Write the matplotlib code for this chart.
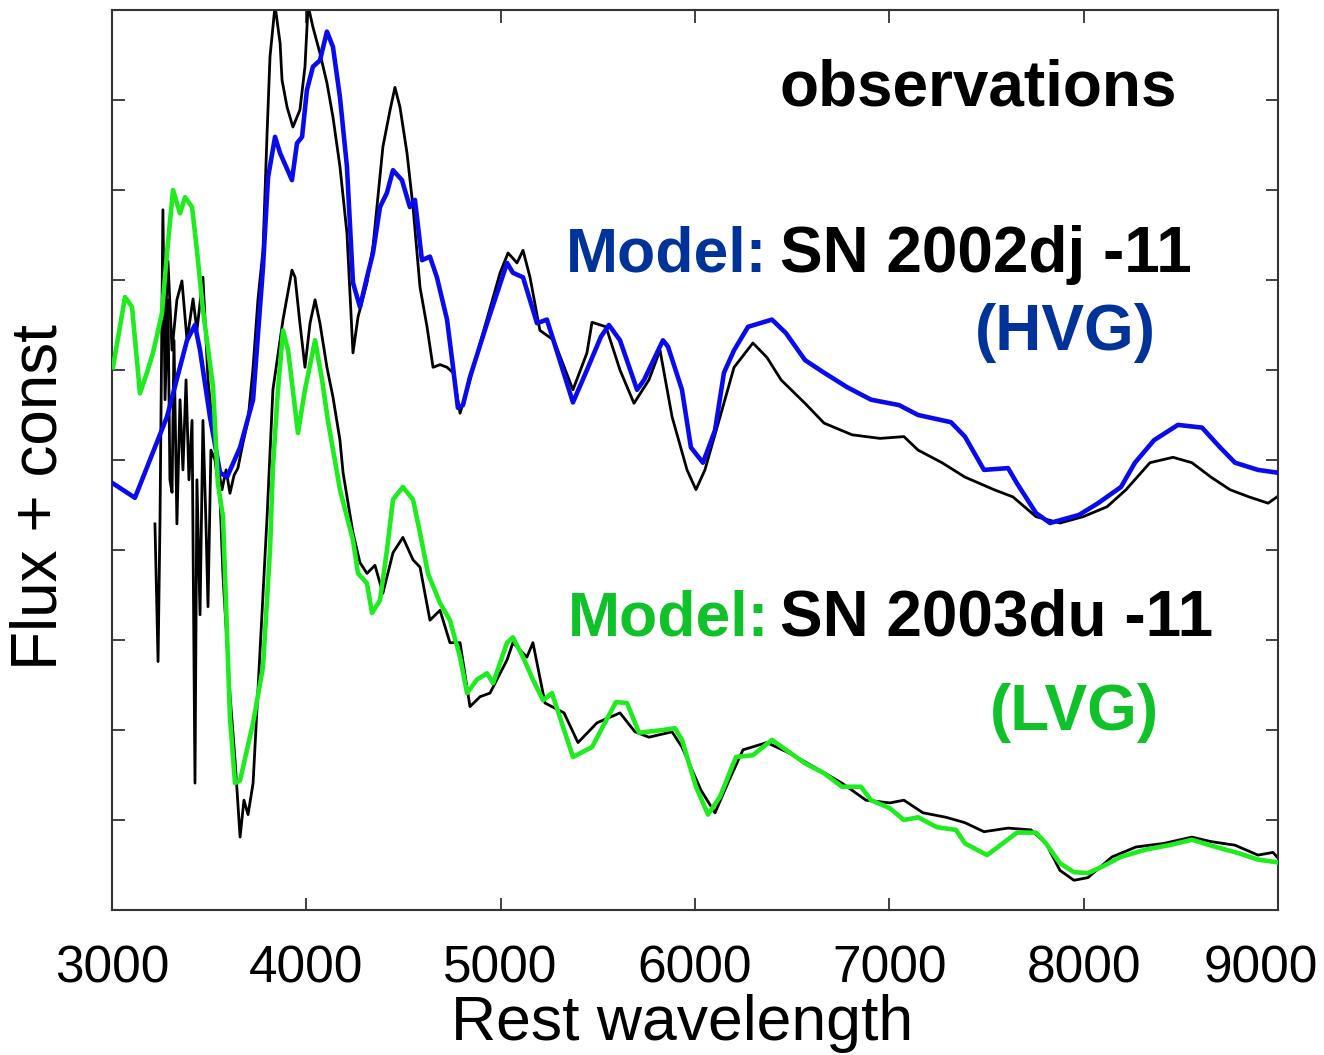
import matplotlib
matplotlib.use("Agg")
import matplotlib.pyplot as plt
from matplotlib.transforms import ScaledTranslation

plt.rcParams['font.family'] = ['Liberation Sans', 'DejaVu Sans']

# ---- data (wavelength in Angstrom, flux + const in arbitrary units) ----
hvg_model_wl = [3005, 3118, 3283, 3386, 3427, 3453, 3504, 3556, 3592, 3659, 3726, 3777, 3803, 3839, 3865,
                3926, 3952, 3978, 4003, 4034, 4070, 4106, 4137, 4173, 4209, 4240, 4276, 4312, 4343, 4379,
                4415, 4446, 4492, 4533, 4559, 4595, 4636, 4672, 4724, 4755, 4780, 4806, 4842, 4930, 5033,
                5063, 5115, 5187, 5238, 5372, 5444, 5516, 5557, 5614, 5702, 5738, 5835, 5861, 5933, 5979,
                6041, 6103, 6149, 6201, 6273, 6396, 6468, 6566, 6664, 6782, 6906, 7050, 7148, 7317, 7389,
                7487, 7611, 7657, 7755, 7827, 7976, 8074, 8192, 8264, 8362, 8485, 8609, 8702, 8779, 8897, 8995]
hvg_model_flux = [4.74, 4.58, 5.48, 6.33, 6.50, 6.22, 5.48, 4.86, 4.81, 5.14, 5.67, 7.14, 8.14, 8.59, 8.41,
                  8.11, 8.52, 8.59, 9.11, 9.37, 9.44, 9.76, 9.59, 9.03, 8.26, 6.97, 6.70, 7.03, 7.30, 7.81,
                  7.97, 8.22, 8.11, 7.81, 7.89, 7.22, 7.26, 7.03, 6.56, 6.03, 5.58, 5.61, 5.92, 6.52, 7.19,
                  7.08, 7.03, 6.52, 6.56, 5.64, 6.00, 6.37, 6.50, 6.33, 5.78, 5.89, 6.33, 6.26, 5.78, 5.14,
                  4.97, 5.33, 5.97, 6.22, 6.48, 6.56, 6.41, 6.11, 5.97, 5.81, 5.67, 5.61, 5.50, 5.42, 5.26,
                  4.89, 4.91, 4.74, 4.41, 4.30, 4.39, 4.52, 4.70, 4.97, 5.22, 5.39, 5.36, 5.14, 4.97, 4.89, 4.86]

obs_2002dj_wl = [3273, 3288, 3309, 3334, 3360, 3386, 3417, 3437, 3468, 3494, 3520, 3540, 3566, 3587, 3607,
                 3628, 3648, 3674, 3700, 3726, 3751, 3777, 3798, 3813, 3839, 3865, 3875, 3901, 3931, 3967,
                 3993, 4009, 4034, 4070, 4106, 4137, 4173, 4209, 4240, 4266, 4312, 4343, 4394, 4431, 4456,
                 4482, 4518, 4549, 4585, 4621, 4652, 4688, 4724, 4755, 4791, 4842, 4909, 4997, 5038, 5084,
                 5115, 5151, 5202, 5274, 5372, 5444, 5470, 5542, 5614, 5686, 5763, 5820, 5882, 5959, 6005,
                 6051, 6129, 6201, 6298, 6370, 6443, 6566, 6664, 6808, 6952, 7075, 7148, 7271, 7389, 7539,
                 7636, 7755, 7878, 7997, 8120, 8218, 8341, 8460, 8557, 8655, 8753, 8851, 8949, 8995]
obs_2002dj_flux = [6.44, 7.21, 6.22, 6.78, 6.99, 6.33, 6.79, 6.44, 7.03, 5.89, 5.33, 5.00, 4.67, 4.89, 4.63,
                   4.83, 4.91, 5.19, 5.44, 6.03, 6.78, 7.33, 8.63, 9.48, 10.05, 9.63, 9.22, 8.92, 8.70, 8.89,
                   9.37, 10.05, 9.81, 9.52, 9.19, 8.81, 8.26, 7.52, 6.19, 6.59, 6.97, 7.37, 8.48, 8.89, 9.14,
                   8.92, 8.41, 7.81, 6.92, 6.48, 6.03, 6.06, 6.03, 5.97, 5.52, 5.89, 6.41, 7.08, 7.30, 7.19,
                   7.33, 7.03, 6.44, 6.33, 5.78, 6.19, 6.53, 6.48, 6.00, 5.63, 5.89, 6.22, 5.48, 4.89, 4.67,
                   4.89, 5.48, 6.03, 6.30, 6.14, 5.89, 5.63, 5.41, 5.28, 5.24, 5.26, 5.11, 4.97, 4.81, 4.67,
                   4.59, 4.37, 4.30, 4.37, 4.48, 4.67, 4.97, 5.03, 4.97, 4.81, 4.67, 4.59, 4.52, 4.59]

lvg_model_wl = [3005, 3067, 3103, 3144, 3180, 3211, 3257, 3283, 3314, 3350, 3376, 3412, 3437, 3468, 3520,
                3545, 3571, 3607, 3633, 3659, 3726, 3777, 3813, 3828, 3854, 3880, 3906, 3957, 3993, 4045,
                4081, 4111, 4158, 4173, 4240, 4266, 4312, 4338, 4379, 4415, 4446, 4497, 4549, 4585, 4626,
                4688, 4739, 4791, 4827, 4878, 4930, 4961, 5033, 5063, 5115, 5166, 5218, 5264, 5372, 5470,
                5593, 5650, 5712, 5835, 5897, 5933, 6005, 6067, 6129, 6211, 6298, 6396, 6468, 6566, 6664,
                6756, 6854, 6906, 7003, 7075, 7148, 7245, 7343, 7389, 7503, 7559, 7657, 7755, 7806, 7878,
                7950, 8022, 8094, 8192, 8316, 8439, 8557, 8681, 8799, 8897, 8995]
lvg_model_flux = [6.03, 6.81, 6.70, 5.74, 5.97, 6.19, 6.63, 7.30, 8.00, 7.74, 7.92, 7.81, 7.33, 6.67, 5.81,
                  4.74, 4.37, 2.14, 1.41, 1.44, 2.08, 2.70, 4.00, 4.92, 5.78, 6.44, 6.22, 5.30, 5.78, 6.33,
                  5.89, 5.44, 4.86, 4.67, 4.11, 3.74, 3.63, 3.30, 3.44, 4.00, 4.56, 4.70, 4.56, 4.19, 3.74,
                  3.41, 3.22, 2.81, 2.41, 2.56, 2.63, 2.52, 2.97, 3.03, 2.81, 2.56, 2.33, 2.41, 1.70, 1.81,
                  2.31, 2.30, 1.97, 2.00, 2.02, 1.89, 1.37, 1.06, 1.26, 1.70, 1.72, 1.89, 1.78, 1.63, 1.52,
                  1.37, 1.37, 1.22, 1.13, 1.00, 1.03, 0.92, 0.89, 0.74, 0.61, 0.70, 0.86, 0.86, 0.74, 0.52,
                  0.42, 0.41, 0.48, 0.59, 0.67, 0.72, 0.78, 0.70, 0.63, 0.56, 0.53]

obs_2003du_wl = [3221, 3237, 3247, 3262, 3273, 3288, 3298, 3309, 3319, 3334, 3350, 3365, 3381, 3396, 3412,
                 3427, 3437, 3453, 3468, 3483, 3494, 3509, 3530, 3556, 3571, 3607, 3633, 3659, 3679, 3700,
                 3726, 3762, 3798, 3828, 3880, 3926, 3942, 3967, 3993, 4019, 4045, 4070, 4106, 4137, 4173,
                 4189, 4240, 4276, 4312, 4353, 4394, 4446, 4497, 4549, 4585, 4636, 4688, 4739, 4791, 4842,
                 4894, 4945, 5033, 5063, 5135, 5166, 5228, 5326, 5398, 5496, 5614, 5691, 5763, 5882, 5933,
                 6031, 6103, 6175, 6247, 6370, 6489, 6612, 6756, 6880, 7003, 7075, 7173, 7292, 7389, 7487,
                 7611, 7729, 7806, 7878, 7950, 8022, 8146, 8269, 8413, 8557, 8655, 8779, 8897, 8974, 8995]
obs_2003du_flux = [4.29, 2.76, 4.33, 7.78, 5.67, 6.78, 4.78, 4.64, 6.33, 4.29, 5.67, 4.89, 5.89, 4.78, 5.44,
                   1.41, 4.78, 3.28, 5.44, 4.33, 3.37, 5.11, 5.00, 4.56, 3.72, 2.40, 1.67, 0.81, 1.22, 1.06,
                   1.41, 2.89, 4.37, 5.78, 6.56, 7.11, 7.03, 6.52, 6.03, 6.52, 6.78, 6.52, 6.03, 5.70, 5.22,
                   4.86, 4.19, 3.86, 3.74, 3.83, 3.52, 3.97, 4.14, 3.89, 3.81, 3.22, 3.33, 2.97, 2.97, 2.26,
                   2.37, 2.41, 2.78, 2.97, 2.81, 2.97, 2.30, 2.19, 1.86, 2.08, 2.19, 1.98, 1.92, 1.98, 1.81,
                   1.33, 1.08, 1.44, 1.78, 1.86, 1.74, 1.59, 1.41, 1.22, 1.19, 1.22, 1.08, 1.03, 0.97, 0.87,
                   0.91, 0.89, 0.74, 0.44, 0.33, 0.36, 0.59, 0.70, 0.74, 0.81, 0.76, 0.72, 0.61, 0.64, 0.59]

x_ticks = [3000, 4000, 5000, 6000, 7000, 8000, 9000]
y_ticks = [1, 2, 3, 4, 5, 6, 7, 8, 9]

# ---- figure ----
W, H = 1324, 1055
fig = plt.figure(figsize=(W / 100, H / 100), dpi=100)
ax = fig.add_axes([112 / W, 1 - 910 / H, (1278 - 112) / W, 900 / H])

ax.plot(obs_2002dj_wl, obs_2002dj_flux, color='black', lw=2.0, zorder=2)
ax.plot(obs_2003du_wl, obs_2003du_flux, color='black', lw=2.0, zorder=2)
ax.plot(hvg_model_wl, hvg_model_flux, color='#0a0aee', lw=3.3, zorder=3)
ax.plot(lvg_model_wl, lvg_model_flux, color='#1eec1e', lw=3.3, zorder=3)

ax.set_xlim(3000, 9000)
ax.set_ylim(0, 10)
ax.set_xticks(x_ticks)
ax.set_xticklabels([str(t) for t in x_ticks], fontsize=37)
ax.set_yticks(y_ticks)
ax.set_yticklabels([])
ax.tick_params(axis='both', direction='in', length=9, width=1.3, color='#333333',
               top=True, right=True)
ax.tick_params(axis='x', pad=25)
for s in ax.spines.values():
    s.set_linewidth(1.5)
    s.set_color('#333333')

# keep the last tick label inside the canvas, as in the reference
last = ax.get_xticklabels()[-1]
last.set_transform(last.get_transform() + ScaledTranslation(-0.17, 0, fig.dpi_scale_trans))

fig.text(682 / W, 1 - 1040 / H, 'Rest wavelength', fontsize=45, ha='center', va='baseline')
fig.text(40 / W, 1 - 497 / H, 'Flux + const', fontsize=46, ha='center', va='center', rotation=90)

blue_txt = '#003399'
green_txt = '#10c22a'
fig.text(780 / W, 1 - 106 / H, 'observations', fontsize=46, fontweight='bold', color='black', va='baseline')
fig.text(566 / W, 1 - 272 / H, 'Model:', fontsize=45, fontweight='bold', color=blue_txt, va='baseline')
fig.text(780 / W, 1 - 272 / H, 'SN 2002dj -11', fontsize=46, fontweight='bold', color='black', va='baseline')
fig.text(975 / W, 1 - 350 / H, '(HVG)', fontsize=46, fontweight='bold', color=blue_txt, va='baseline')
fig.text(568 / W, 1 - 636 / H, 'Model:', fontsize=45, fontweight='bold', color=green_txt, va='baseline')
fig.text(780 / W, 1 - 636 / H, 'SN 2003du -11', fontsize=46, fontweight='bold', color='black', va='baseline')
fig.text(990 / W, 1 - 730 / H, '(LVG)', fontsize=46, fontweight='bold', color=green_txt, va='baseline')

fig.savefig('out.png', dpi=100)
